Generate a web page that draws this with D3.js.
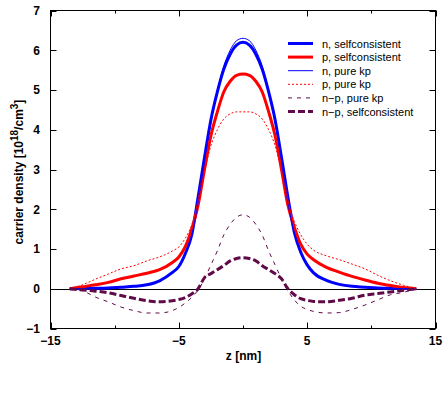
<!DOCTYPE html>
<html><head><meta charset="utf-8">
<script src="https://cdn.jsdelivr.net/npm/d3@7"></script>
<style>
html,body{margin:0;padding:0;background:#fff;}
svg{display:block;font-family:"Liberation Sans",Arial,Helvetica,sans-serif;}
</style></head>
<body>
<svg id="chart" width="443" height="394"></svg>
<script>
// ---- data ----
const z = [-13.5,-12.5,-11.5,-10.5,-9.5,-8.5,-7.5,-6.5,-5.5,-5,-4.5,-4,-3.5,-3,-2.5,-2,-1.5,-1,-0.5,0,0.5,1,1.5,2,2.5,3,3.5,4,4.5,5,5.5,6.5,7.5,8.5,9.5,10.5,11.5,12.5,13.5];
const nSelf  = [0,0.005,0.01,0.02,0.04,0.06,0.1,0.2,0.41,0.56,0.88,1.35,2.3,3.3,4.25,4.95,5.52,5.9,6.13,6.2, 6.13,5.9,5.52,4.95,4.25,3.3,2.3,1.42,0.92,0.6,0.4,0.21,0.11,0.06,0.04,0.02,0.01,0.005,0];
const pSelf  = [0,0.05,0.1,0.16,0.25,0.32,0.39,0.48,0.66,0.8,1.06,1.5,2.1,3.0,3.85,4.45,4.95,5.22,5.37,5.4, 5.37,5.22,4.95,4.45,3.85,3.0,2.1,1.55,1.12,0.87,0.73,0.54,0.42,0.31,0.22,0.14,0.08,0.03,0];
const nPure  = [0,0.005,0.01,0.02,0.04,0.06,0.1,0.2,0.41,0.56,0.88,1.35,2.15,3.2,4.2,4.98,5.6,6.0,6.24,6.3, 6.24,6.0,5.6,4.98,4.2,3.2,2.15,1.42,0.92,0.6,0.4,0.21,0.11,0.06,0.04,0.02,0.01,0.005,0];
const pPure  = [0,0.1,0.24,0.37,0.5,0.58,0.7,0.8,0.95,1.05,1.27,1.6,2.18,2.95,3.6,4.0,4.27,4.4,4.45,4.45, 4.45,4.4,4.27,4.0,3.6,2.95,2.2,1.7,1.36,1.12,0.97,0.83,0.73,0.62,0.5,0.34,0.2,0.09,0];
const npPure = [0,-0.05,-0.21,-0.33,-0.46,-0.55,-0.61,-0.61,-0.55,-0.47,-0.36,-0.22,-0.03,0.25,0.6,0.95,1.35,1.62,1.8,1.86, 1.8,1.62,1.35,0.95,0.6,0.25,-0.05,-0.28,-0.44,-0.52,-0.57,-0.61,-0.6,-0.52,-0.41,-0.28,-0.15,-0.09,0];
const npSelf = [0,-0.03,-0.06,-0.1,-0.17,-0.24,-0.3,-0.33,-0.3,-0.27,-0.22,-0.13,0.0,0.28,0.38,0.48,0.58,0.7,0.76,0.78, 0.76,0.7,0.58,0.48,0.38,0.25,0.0,-0.15,-0.25,-0.29,-0.32,-0.33,-0.29,-0.24,-0.16,-0.12,-0.08,-0.04,0];

const seriesNames = ["n, selfconsistent","p, selfconsistent","n, pure kp","p, pure kp","n\u2212p, pure kp","n\u2212p, selfconsistent"];
const seriesValues = [nSelf, pSelf, nPure, pPure, npPure, npSelf];
const xMajorTicks = [-15,-5,5,15];
const xMinorTicks = [-10,0,10];
const yTicks = [-1,0,1,2,3,4,5,6,7];

// ---- styles ----
const purple = "#600a4a";
const styles = [
  {color:"#0000ff", width:3, dash:null},
  {color:"#ff0000", width:3, dash:null},
  {color:"#0000ff", width:1, dash:null},
  {color:"#ff0000", width:1, dash:"2,2"},
  {color:purple,   width:1, dash:"4,5"},
  {color:purple,   width:3, dash:"7,3"}
];

const svg = d3.select("#chart");
const L = 50.5, R = 435.5, T = 10.5, B = 328.5;
const x = d3.scaleLinear().domain([-15,15]).range([L,R]);
const y = d3.scaleLinear().domain([-1,7]).range([B,T]);

// zero axis
svg.append("line").attr("x1",L).attr("x2",R).attr("y1",Math.round(y(0))+0.5).attr("y2",Math.round(y(0))+0.5)
  .attr("stroke","#000").attr("stroke-width",1);

// curves
const line = d3.line().x(d=>x(d[0])).y(d=>y(d[1])).curve(d3.curveMonotoneX);
seriesValues.forEach((vals,i)=>{
  const pts = z.map((zz,k)=>[zz, vals[k]]);
  const p = svg.append("path").attr("d", line(pts)).attr("fill","none")
    .attr("stroke", styles[i].color).attr("stroke-width", styles[i].width)
    .attr("stroke-linejoin","round");
  if (styles[i].dash) p.attr("stroke-dasharray", styles[i].dash);
});

// frame
svg.append("rect").attr("x",L).attr("y",T).attr("width",R-L).attr("height",B-T)
  .attr("fill","none").attr("stroke","#000").attr("stroke-width",1);

// ticks (mirrored, inward)
const tk = svg.append("g").attr("stroke","#000").attr("stroke-width",1);
xMajorTicks.forEach(v=>{
  const px = Math.round(x(v))+0.5;
  tk.append("line").attr("x1",px).attr("x2",px).attr("y1",B).attr("y2",B-6);
  tk.append("line").attr("x1",px).attr("x2",px).attr("y1",T).attr("y2",T+6);
});
xMinorTicks.forEach(v=>{
  const px = Math.round(x(v))+0.5;
  tk.append("line").attr("x1",px).attr("x2",px).attr("y1",B).attr("y2",B-3);
  tk.append("line").attr("x1",px).attr("x2",px).attr("y1",T).attr("y2",T+3);
});
yTicks.forEach(v=>{
  const py = Math.round(y(v))+0.5;
  tk.append("line").attr("x1",L).attr("x2",L+6).attr("y1",py).attr("y2",py);
  tk.append("line").attr("x1",R).attr("x2",R-6).attr("y1",py).attr("y2",py);
});

// tick labels
const fmt = v => (v<0 ? "\u2212"+Math.abs(v) : String(v));
xMajorTicks.forEach(v=>{
  svg.append("text").attr("x",x(v)).attr("y",344.5).attr("text-anchor","middle")
    .attr("font-size",12).attr("font-weight","bold").text(fmt(v));
});
yTicks.forEach(v=>{
  svg.append("text").attr("x",40).attr("y",y(v)+4.3).attr("text-anchor","end")
    .attr("font-size",12).attr("font-weight","bold").text(fmt(v));
});

// axis titles
svg.append("text").attr("x",243.5).attr("y",360).attr("text-anchor","middle")
  .attr("font-size",12).attr("font-weight","bold").text("z [nm]");
const yl = svg.append("text").attr("transform","translate(23,172) rotate(-90)")
  .attr("text-anchor","middle").attr("font-size",12).attr("font-weight","bold");
yl.append("tspan").text("carrier density [10");
yl.append("tspan").attr("dy",-5).attr("font-size",10).text("18");
yl.append("tspan").attr("dy",5).text("/cm");
yl.append("tspan").attr("dy",-5).attr("font-size",10).text("3");
yl.append("tspan").attr("dy",5).text("]");

// legend
const lg = svg.append("g");
seriesNames.forEach((name,i)=>{
  const cy = 43.5 + i*13.6;
  const l = lg.append("line").attr("x1",288).attr("x2",313).attr("y1",cy).attr("y2",cy)
    .attr("stroke",styles[i].color).attr("stroke-width",styles[i].width);
  if (styles[i].dash) l.attr("stroke-dasharray",styles[i].dash);
  lg.append("text").attr("x",322).attr("y",cy+4).attr("font-size",11).text(name);
});
</script>
</body></html>
